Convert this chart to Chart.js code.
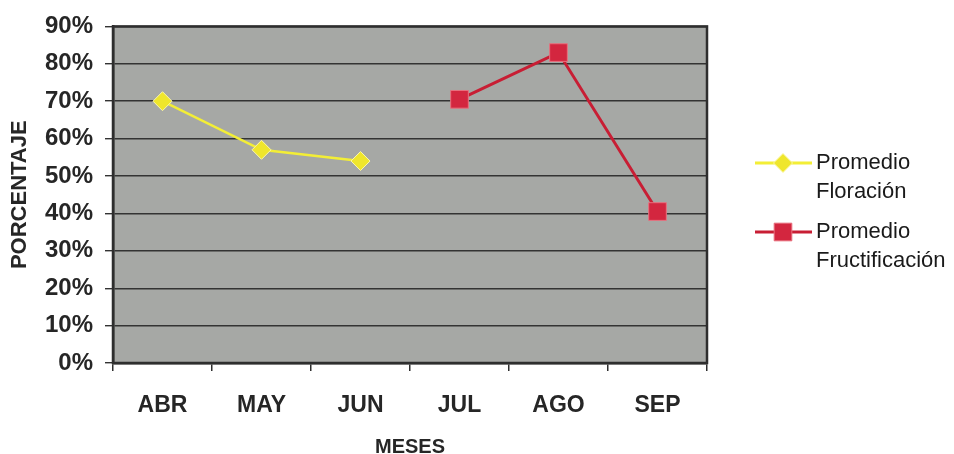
<!DOCTYPE html>
<html>
<head>
<meta charset="utf-8">
<script src="https://cdn.jsdelivr.net/npm/chart.js@4"></script>
<style>
  body { margin: 0; background: #fff; }
  canvas { display: block; }
</style>
</head>
<body>
<canvas id="chart" width="954" height="454"></canvas>
<script>
const months = ["ABR", "MAY", "JUN", "JUL", "AGO", "SEP"];
const floracion = [70, 57, 54, null, null, null];
const fructificacion = [null, null, null, 70.5, 83, 40.5];
const seriesNames = [["Promedio", "Floración"], ["Promedio", "Fructificación"]];
const yMax = 90;
const yStep = 10;

const FONT = "'Liberation Sans', Arial, sans-serif";

/* plot background + frame */
const plotArea = {
  id: "plotArea",
  beforeDraw(chart) {
    const { ctx, chartArea: a } = chart;
    ctx.save();
    ctx.fillStyle = "#a6a8a5";
    ctx.fillRect(a.left, a.top, a.right - a.left, a.bottom - a.top);
    ctx.restore();
  },
  beforeDatasetsDraw(chart) {
    const { ctx, chartArea: a } = chart;
    ctx.save();
    ctx.strokeStyle = "#2e2e2e";
    ctx.lineWidth = 2.5;
    ctx.strokeRect(a.left, a.top, a.right - a.left, a.bottom - a.top);
    ctx.restore();
  },
};

/* legend with two-line labels on the right */
const sideLegend = {
  id: "sideLegend",
  afterDraw(chart) {
    const ctx = chart.ctx;
    const rows = [163, 232];
    ctx.save();
    ctx.font = "22px " + FONT;
    ctx.textBaseline = "middle";
    chart.data.datasets.forEach((ds, i) => {
      const y = rows[i];
      ctx.strokeStyle = ds.borderColor;
      ctx.lineWidth = 3;
      ctx.beginPath();
      ctx.moveTo(755, y);
      ctx.lineTo(812, y);
      ctx.stroke();
      ctx.fillStyle = ds.pointBackgroundColor;
      ctx.strokeStyle = ds.pointBorderColor;
      ctx.lineWidth = 1;
      Chart.helpers.drawPoint(ctx, { pointStyle: ds.pointStyle, radius: ds.pointRadius, borderWidth: 1 }, 783, y);
      ctx.fillStyle = "#1a1a1a";
      seriesNames[i].forEach((t, k) => ctx.fillText(t, 816, y + k * 29));
    });
    ctx.restore();
  },
};

const ctx = document.getElementById("chart").getContext("2d");
new Chart(ctx, {
  type: "line",
  data: {
    labels: months,
    datasets: [
      {
        label: seriesNames[0].join(" "),
        data: floracion,
        borderColor: "#f3ee36",
        borderWidth: 2.5,
        pointStyle: "rectRot",
        pointRadius: 9.5,
        pointBackgroundColor: "#efe62c",
        pointBorderColor: "#fbf7a8",
        pointBorderWidth: 1,
        tension: 0,
      },
      {
        label: seriesNames[1].join(" "),
        data: fructificacion,
        borderColor: "#c81e34",
        borderWidth: 3,
        pointStyle: "rect",
        pointRadius: 12.5,
        pointBackgroundColor: "#d3263f",
        pointBorderColor: "#e8707e",
        pointBorderWidth: 1,
        tension: 0,
      },
    ],
  },
  options: {
    responsive: false,
    devicePixelRatio: 1,
    animation: false,
    layout: { padding: { top: 20, right: 247, left: 0, bottom: 0 } },
    plugins: {
      legend: { display: false },
      tooltip: { enabled: false },
    },
    scales: {
      x: {
        offset: true,
        grid: {
          offset: true,
          drawOnChartArea: false,
          drawTicks: true,
          tickLength: 8,
          color: "#2e2e2e",
          lineWidth: 1.5,
        },
        border: { color: "#2e2e2e", width: 2.5 },
        ticks: {
          color: "#262626",
          padding: 21,
          font: { family: FONT, size: 23, weight: "bold" },
        },
        title: {
          display: true,
          text: "MESES",
          color: "#262626",
          padding: { top: 0, bottom: -5 },
          font: { family: FONT, size: 20, weight: "bold" },
        },
        afterFit(scale) { scale.height = 91; },
      },
      y: {
        min: 0,
        max: yMax,
        grid: {
          color: "#333333",
          lineWidth: 1.4,
          drawTicks: true,
          tickLength: 8,
        },
        border: { color: "#2e2e2e", width: 2.5 },
        ticks: {
          stepSize: yStep,
          color: "#262626",
          padding: 12,
          callback: (v) => v + "%",
          font: { family: FONT, size: 24, weight: "bold" },
        },
        title: {
          display: true,
          text: "PORCENTAJE",
          color: "#262626",
          padding: { top: 7, bottom: 0 },
          font: { family: FONT, size: 22, weight: "bold" },
        },
        afterFit(scale) { scale.width = 113; },
      },
    },
  },
  plugins: [plotArea, sideLegend],
});
</script>
</body>
</html>
